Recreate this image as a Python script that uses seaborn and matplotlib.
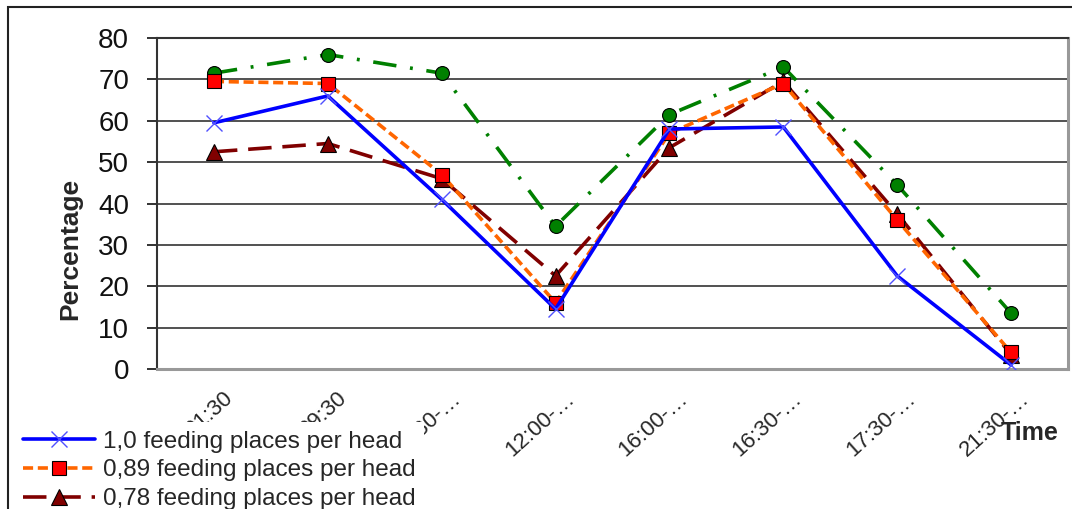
import matplotlib
matplotlib.use("Agg")
import matplotlib.pyplot as plt
import matplotlib.patches as mpatches
import matplotlib.transforms as mtransforms
import seaborn as sns
import numpy as np

# ---- data ----
time_labels = ["01:30", "09:30", "11:30-…", "12:00-…", "16:00-…", "16:30-…", "17:30-…", "21:30-…"]
s_10 = [59.5, 66.0, 41.0, 14.5, 58.0, 58.5, 22.5, 1.0]
s_089 = [69.5, 69.0, 47.0, 16.0, 57.0, 69.0, 36.0, 4.0]
s_078 = [52.5, 54.5, 46.0, 22.5, 53.5, 69.5, 37.5, 3.5]
s_067 = [71.5, 76.0, 71.5, 34.5, 61.5, 73.0, 44.5, 13.5]
series_names = ["1,0 feeding places per head", "0,89 feeding places per head",
                "0,78 feeding places per head", "0,67 feeding places per head"]
y_ticks = [0, 10, 20, 30, 40, 50, 60, 70, 80]

sns.set_theme(style="white")
plt.rcParams['font.family'] = ['Liberation Sans', 'DejaVu Sans']

W, H = 1072, 509
fig = plt.figure(figsize=(W / 100, H / 100), dpi=100)
fig.patch.set_facecolor("white")
ax = fig.add_axes([157 / W, 1 - 369 / H, (1068 - 157) / W, (369 - 38) / H])
ax.set_facecolor("white")

# figure border (outer chart area)
fig.patches.append(mpatches.Rectangle((8 / W, -0.2), 1.2, (1 - 7 / H) + 0.2,
                                      transform=fig.transFigure, fill=False,
                                      edgecolor="#222222", linewidth=1.5, zorder=0))

styles = [
    dict(color="#0000FF", marker="x", mec="#5050FF", mfc="#5050FF", ms=12, mew=1.0, dashes=None),
    dict(color="#FF6600", marker="s", mec="#000000", mfc="#FF0000", ms=10, mew=0.8, dashes=(2.8, 1.3)),
    dict(color="#800000", marker="^", mec="#000000", mfc="#800000", ms=11, mew=0.8, dashes=(6.5, 3.0)),
    dict(color="#008000", marker="o", mec="#000000", mfc="#008000", ms=10, mew=0.8, dashes=(6.5, 3.8, 0.8, 3.8)),
]
all_series = [s_10, s_089, s_078, s_067]
draw_order = [3, 2, 1, 0]
handles = {}
for i in draw_order:
    st = styles[i]
    sns.lineplot(x=time_labels, y=all_series[i], ax=ax, color=st["color"], lw=2.6,
                 marker=st["marker"], markeredgecolor=st["mec"], markerfacecolor=st["mfc"],
                 markersize=st["ms"], markeredgewidth=st["mew"], sort=False,
                 label=series_names[i], zorder=3 + (3 - i))
    line = ax.lines[-1]
    if st["dashes"] is not None:
        line.set_dashes(st["dashes"])
    handles[i] = line

ax.set_xlim(-0.5, 7.5)
ax.set_ylim(0, 80)
ax.set_yticks(y_ticks)
ax.set_yticklabels([str(v) for v in y_ticks], fontsize=20, color="#111111")
ax.tick_params(axis="y", which="major", direction="out", length=7, width=1.3,
               color="#222222", pad=13, left=True)
ax.tick_params(axis="x", length=0, pad=2)
for yv in y_ticks[1:-1]:
    ax.axhline(yv, color="#222222", lw=1.1, zorder=1)

ax.set_xticks(range(len(time_labels)))
ax.set_xticklabels(time_labels, fontsize=16, rotation=42, ha="right",
                   rotation_mode="anchor", va="center")
offset = mtransforms.ScaledTranslation(16 / 100, -24 / 100, fig.dpi_scale_trans)
for lab in ax.get_xticklabels():
    lab.set_transform(lab.get_transform() + offset)

for side in ["left", "top"]:
    ax.spines[side].set_color("#333333")
    ax.spines[side].set_linewidth(1.5)
for side in ["right", "bottom"]:
    ax.spines[side].set_color("#999999")
    ax.spines[side].set_linewidth(2.2)
for sp in ax.spines.values():
    sp.set_visible(True)

ax.set_ylabel("Percentage", fontsize=19, fontweight="bold", va="center", ha="center")
ax.yaxis.set_label_coords(-0.0955, 0.3625)
ax.set_xlabel("Time", fontsize=18, fontweight="bold", va="center", ha="center")
ax.xaxis.set_label_coords((1030 - 157) / 911, (369 - 433) / 331)

if ax.get_legend() is not None:
    ax.get_legend().remove()
leg = fig.legend([handles[i] for i in range(3)], series_names[:3],
                 loc="upper left", bbox_to_anchor=(14 / W, 1 - 422 / H),
                 fontsize=17.5, frameon=True, facecolor="white", edgecolor="none",
                 framealpha=1, fancybox=False, borderpad=0.35, borderaxespad=0,
                 handlelength=3.0, handletextpad=0.3, labelspacing=0.28, numpoints=1)
leg.set_zorder(10)

fig.savefig("out.png", dpi=100, facecolor="white")
